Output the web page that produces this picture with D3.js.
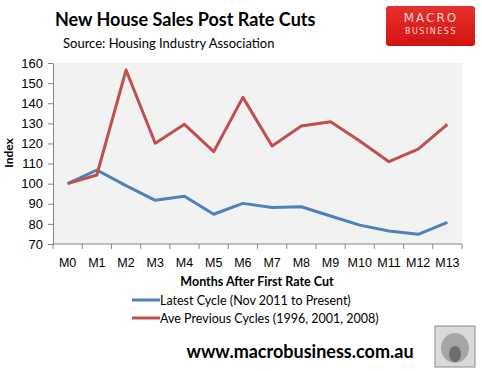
<!DOCTYPE html>
<html>
<head>
<meta charset="utf-8">
<script src="https://cdn.jsdelivr.net/npm/d3@7"></script>
<style>
  body { margin: 0; background: #fff; }
  svg { display: block; }
</style>
</head>
<body>
<div id="chart"></div>
<script>
// chart data
var months = ["M0", "M1", "M2", "M3", "M4", "M5", "M6", "M7", "M8", "M9", "M10", "M11", "M12", "M13"];
var latestCycle = [100, 106.8, 99, 91.7, 93.7, 84.8, 90.2, 88.1, 88.5, 83.9, 79.4, 76.5, 74.8, 80.8];
var previousCycles = [100, 104.3, 156.5, 120.1, 129.5, 115.9, 142.9, 118.7, 128.7, 130.8, 121.2, 110.9, 117.2, 129.5];
var yTicks = [70, 80, 90, 100, 110, 120, 130, 140, 150, 160];
var seriesNames = ["Latest Cycle (Nov 2011 to Present)", "Ave Previous Cycles (1996, 2001, 2008)"];
var seriesColors = ["#4f81bd", "#c0504d"];

var W = 482, H = 371;
var plot = { left: 53, right: 462, top: 63, bottom: 244 };
var axisColor = "#868686";

var svg = d3.select("#chart").append("svg")
    .attr("width", W)
    .attr("height", H);

var x = d3.scaleBand().domain(months).range([plot.left, plot.right]);
var y = d3.scaleLinear().domain([70, 160]).range([plot.bottom, plot.top]);

// plot area background
svg.append("rect")
    .attr("x", plot.left)
    .attr("y", plot.top)
    .attr("width", plot.right - plot.left)
    .attr("height", plot.bottom - plot.top)
    .attr("fill", "#f2f2f2");

// y axis
var yAxis = svg.append("g")
    .attr("transform", `translate(${plot.left},0)`)
    .call(d3.axisLeft(y).tickValues(yTicks).tickSize(5).tickSizeOuter(0));
yAxis.select(".domain").attr("stroke", axisColor);
yAxis.selectAll(".tick line").attr("stroke", axisColor);
yAxis.selectAll(".tick text")
    .attr("x", -10)
    .attr("fill", "#000")
    .style("font-family", "'Liberation Sans', Arial, sans-serif")
    .style("font-size", "13px");

// x axis - ticks on category boundaries
var xAxis = svg.append("g")
    .attr("transform", `translate(0,${plot.bottom})`);
xAxis.append("line")
    .attr("x1", plot.left).attr("x2", plot.right)
    .attr("stroke", axisColor);
var bounds = months.map(m => x(m)).concat([plot.right]);
xAxis.selectAll("line.tk")
    .data(bounds)
    .join("line")
    .attr("class", "tk")
    .attr("x1", d => d).attr("x2", d => d)
    .attr("y1", 0).attr("y2", 5)
    .attr("stroke", axisColor);
xAxis.selectAll("text")
    .data(months)
    .join("text")
    .attr("x", d => x(d) + x.bandwidth() / 2)
    .attr("y", 23)
    .attr("text-anchor", "middle")
    .style("font-family", "'Liberation Sans', Arial, sans-serif")
    .style("font-size", "12.5px")
    .text(d => d);

// axis titles
svg.append("text")
    .attr("transform", "translate(13,153) rotate(-90)")
    .attr("text-anchor", "middle")
    .style("font-family", "Lato, sans-serif")
    .style("font-weight", "bold")
    .style("font-size", "12px")
    .text("Index");

svg.append("text")
    .attr("x", 257)
    .attr("y", 286)
    .attr("text-anchor", "middle")
    .style("font-family", "Lato, sans-serif")
    .style("font-weight", "bold")
    .style("font-size", "12.5px")
    .text("Months After First Rate Cut");

// lines
var line = d3.line()
    .x((d, i) => x(months[i]) + x.bandwidth() / 2)
    .y(d => y(d));

[latestCycle, previousCycles].forEach(function (series, i) {
    svg.append("path")
        .datum(series)
        .attr("fill", "none")
        .attr("stroke", seriesColors[i])
        .attr("stroke-width", 3)
        .attr("stroke-linejoin", "round")
        .attr("d", line);
});

// legend
var legend = svg.append("g").attr("transform", "translate(132,300)");
seriesNames.forEach(function (name, i) {
    var g = legend.append("g").attr("transform", `translate(0,${i * 18})`);
    g.append("line")
        .attr("x1", 0).attr("x2", 28)
        .attr("stroke", seriesColors[i])
        .attr("stroke-width", 3);
    g.append("text")
        .attr("x", 28)
        .attr("y", 5)
        .style("font-family", "Lato, sans-serif")
        .style("font-size", "12.5px")
        .text(name);
});

// title
svg.append("text")
    .attr("x", 55)
    .attr("y", 26)
    .style("font-family", "Lato, sans-serif")
    .style("font-weight", "bold")
    .style("font-size", "18px")
    .text("New House Sales Post Rate Cuts");

svg.append("text")
    .attr("x", 63)
    .attr("y", 48)
    .style("font-family", "Lato, sans-serif")
    .style("font-size", "13px")
    .text("Source:  Housing Industry Association");

// logo top right
var defs = svg.append("defs");
var grad = defs.append("linearGradient")
    .attr("id", "logoGrad")
    .attr("x1", 0).attr("y1", 0).attr("x2", 0).attr("y2", 1);
grad.append("stop").attr("offset", "0%").attr("stop-color", "#e8302c");
grad.append("stop").attr("offset", "100%").attr("stop-color", "#d21410");

var logo = svg.append("g").attr("transform", "translate(386,6)");
logo.append("rect")
    .attr("width", 89).attr("height", 40)
    .attr("rx", 3)
    .attr("fill", "url(#logoGrad)");
logo.append("text")
    .attr("x", 45).attr("y", 16)
    .attr("text-anchor", "middle")
    .attr("fill", "#f4dada")
    .style("font-family", "'DejaVu Sans', sans-serif")
    .style("font-size", "12px")
    .style("letter-spacing", "2px")
    .text("MACRO");
logo.append("text")
    .attr("x", 45).attr("y", 28)
    .attr("text-anchor", "middle")
    .attr("fill", "#f4dada")
    .style("font-family", "'DejaVu Sans', sans-serif")
    .style("font-size", "8px")
    .style("letter-spacing", "1.5px")
    .text("BUSINESS");
logo.append("text")
    .attr("x", 45).attr("y", 36)
    .attr("text-anchor", "middle")
    .attr("fill", "#b01010")
    .style("font-family", "'DejaVu Sans', sans-serif")
    .style("font-size", "4px")
    .style("letter-spacing", "1.5px")
    .text("SUPERBLOG");

// footer
svg.append("text")
    .attr("x", 300)
    .attr("y", 358)
    .attr("text-anchor", "middle")
    .style("font-family", "Lato, sans-serif")
    .style("font-weight", "bold")
    .style("font-size", "18px")
    .text("www.macrobusiness.com.au");

// wolf badge (rough stand-in)
var wolf = svg.append("g").attr("transform", "translate(435,326)");
wolf.append("rect")
    .attr("width", 40).attr("height", 41)
    .attr("fill", "#d9d9d9")
    .attr("stroke", "#8c8c8c");
wolf.append("ellipse")
    .attr("cx", 20).attr("cy", 22).attr("rx", 14).attr("ry", 15)
    .attr("fill", "#a6a6a6");
wolf.append("ellipse")
    .attr("cx", 20).attr("cy", 28).attr("rx", 6).attr("ry", 8)
    .attr("fill", "#6e6e6e");
</script>
</body>
</html>
